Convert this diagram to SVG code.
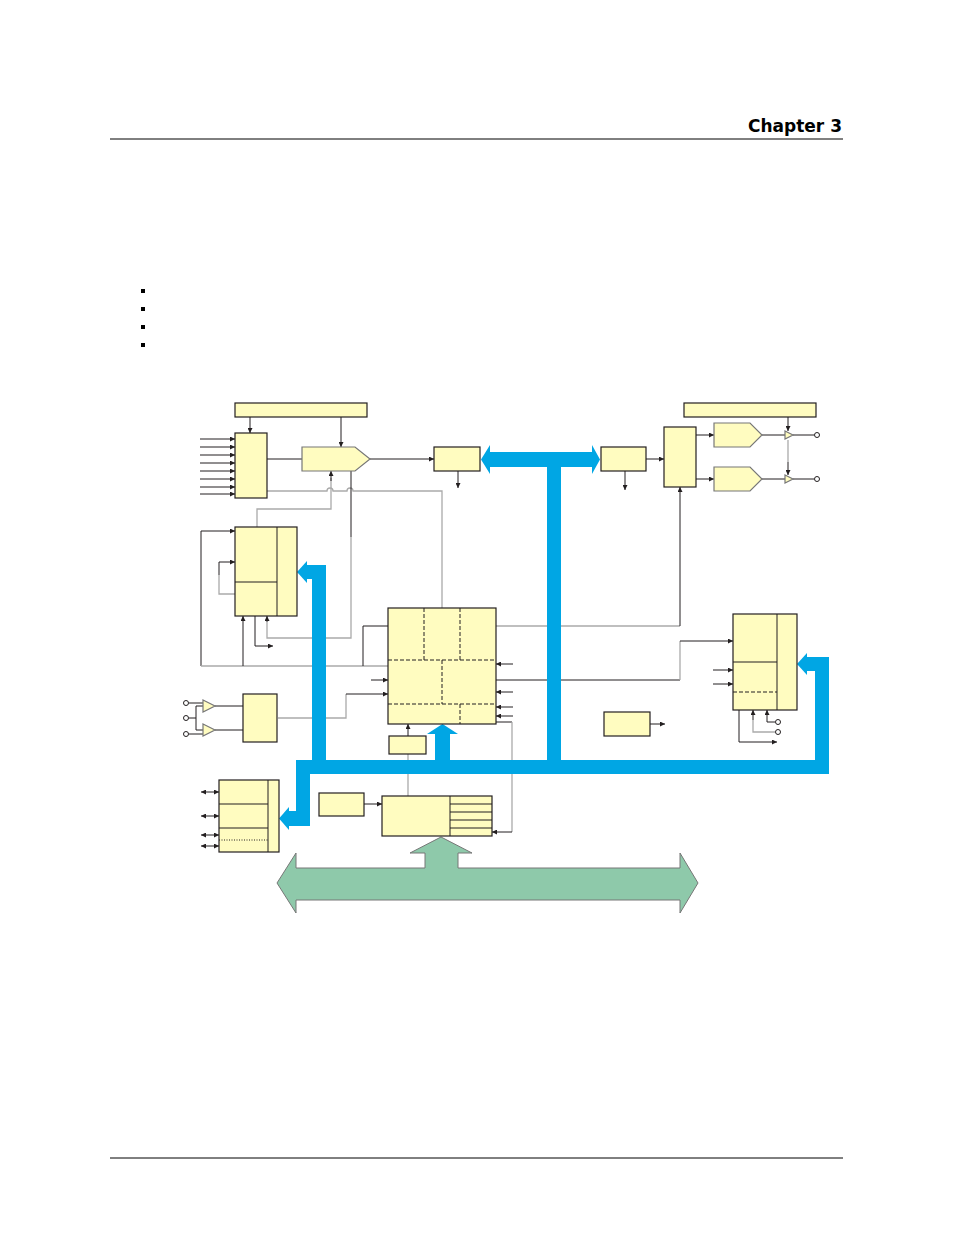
<svg xmlns="http://www.w3.org/2000/svg" width="954" height="1235" viewBox="0 0 954 1235">
<defs>
<marker id="a" viewBox="0 0 6 6" refX="6" refY="3" markerWidth="5" markerHeight="5" orient="auto"><path d="M0,0L6,3L0,6z" fill="#231f20"/></marker>
<marker id="s" viewBox="0 0 6 6" refX="0" refY="3" markerWidth="5" markerHeight="5" orient="auto"><path d="M6,0L0,3L6,6z" fill="#231f20"/></marker>
</defs>
<style>
.b{fill:#fffcc0;stroke:#231f20;stroke-width:1.2}
.p{fill:#fffcc0;stroke:#777;stroke-width:1.2}
.k{fill:none;stroke:#231f20;stroke-width:1}
.g{fill:none;stroke:#aaa;stroke-width:1.3}
.d{fill:none;stroke:#231f20;stroke-width:1;stroke-dasharray:4,2}
.bus{fill:#00a6e4}
.c{fill:#fff;stroke:#231f20;stroke-width:1}
</style>
<rect width="954" height="1235" fill="#fff"/>
<text x="842" y="132" text-anchor="end" font-family="DejaVu Sans, Liberation Sans, sans-serif" font-weight="bold" font-size="17" fill="#000">Chapter 3</text>
<line x1="110" y1="139" x2="843" y2="139" stroke="#000"/>
<line x1="110" y1="1158" x2="843" y2="1158" stroke="#000"/>
<g fill="#000"><rect x="141" y="289" width="4" height="4"/><rect x="141" y="307" width="4" height="4"/><rect x="141" y="325" width="4" height="4"/><rect x="141" y="343" width="4" height="4"/></g>

<g id="connectors">
<path class="k" d="M200,439H235" marker-end="url(#a)"/>
<path class="k" d="M200,447H235" marker-end="url(#a)"/>
<path class="k" d="M200,455H235" marker-end="url(#a)"/>
<path class="k" d="M200,463H235" marker-end="url(#a)"/>
<path class="k" d="M200,471H235" marker-end="url(#a)"/>
<path class="k" d="M200,479H235" marker-end="url(#a)"/>
<path class="k" d="M200,487H235" marker-end="url(#a)"/>
<path class="k" d="M200,494H235" marker-end="url(#a)"/>
<path class="k" d="M250,417V433" marker-end="url(#a)"/>
<path class="k" d="M341,417V447" marker-end="url(#a)"/>
<path class="k" d="M267,459H302"/>
<path class="k" d="M370,459H434" marker-end="url(#a)"/>
<path class="k" d="M458,471V488" marker-end="url(#a)"/>
<path class="g" d="M267,491H327a3,3 0 0 1 6,0H347a3,3 0 0 1 6,0H442V608"/>
<path class="g" d="M257,527V509H331V478"/>
<path class="k" d="M331,481V471" marker-end="url(#a)"/>
<path class="k" d="M351,471V537"/>
<path class="g" d="M351,537V638H267V622"/>
<path class="k" d="M267,622V616" marker-end="url(#a)"/>
<path class="k" d="M201,666V531H235" marker-end="url(#a)"/>
<path class="g" d="M201,666H388"/>
<path class="k" d="M363,666V626H388"/>
<path class="g" d="M235,594H219V575"/>
<path class="k" d="M219,575V562H235" marker-end="url(#a)"/>
<path class="k" d="M243,666V616" marker-end="url(#a)"/>
<path class="k" d="M255,616V646H273" marker-end="url(#a)"/>
<path class="k" d="M371,680H388" marker-end="url(#a)"/>
<path class="g" d="M278,718H346V694"/>
<path class="k" d="M346,694H388" marker-end="url(#a)"/>
<path class="k" d="M513,664H496" marker-end="url(#a)"/>
<path class="k" d="M513,692H496" marker-end="url(#a)"/>
<path class="k" d="M513,707H496" marker-end="url(#a)"/>
<path class="k" d="M513,716H496" marker-end="url(#a)"/>
<path class="k" d="M496,680H680"/>
<path class="g" d="M680,680V641"/>
<path class="k" d="M680,641H733" marker-end="url(#a)"/>
<path class="g" d="M496,626H680"/>
<path class="k" d="M680,626V487" marker-end="url(#a)"/>
<path class="k" d="M496,722H512"/>
<path class="g" d="M512,722V832"/>
<path class="k" d="M512,832H492" marker-end="url(#a)"/>
<path class="k" d="M408,736V724" marker-end="url(#a)"/>
<path class="g" d="M408,754V796"/>
<path class="k" d="M215,706H243M215,730H243"/>
<path class="k" d="M189,703H203M189,718H196V706H203M196,718V730H203M189,734H203"/>
<path class="k" d="M201,792H219" marker-start="url(#s)" marker-end="url(#a)"/>
<path class="k" d="M201,816H219" marker-start="url(#s)" marker-end="url(#a)"/>
<path class="k" d="M201,835H219" marker-start="url(#s)" marker-end="url(#a)"/>
<path class="k" d="M201,846H219" marker-start="url(#s)" marker-end="url(#a)"/>
<path class="k" d="M364,804H382" marker-end="url(#a)"/>
<path class="k" d="M625,471V490" marker-end="url(#a)"/>
<path class="k" d="M646,459H664" marker-end="url(#a)"/>
<path class="k" d="M696,435H714" marker-end="url(#a)"/>
<path class="k" d="M696,479H714" marker-end="url(#a)"/>
<path class="k" d="M762,435H785M762,479H785M793,435H814M793,479H814"/>
<path class="k" d="M788,417V431" marker-end="url(#a)"/>
<path class="g" d="M788,440V462"/>
<path class="k" d="M788,462V475" marker-end="url(#a)"/>
<path class="k" d="M713,670H733" marker-end="url(#a)"/>
<path class="k" d="M713,684H733" marker-end="url(#a)"/>
<path class="k" d="M775,722H767V710" marker-end="url(#a)"/>
<path class="g" d="M775,732H753V720"/>
<path class="k" d="M753,720V710" marker-end="url(#a)"/>
<path class="k" d="M739,710V742H777" marker-end="url(#a)"/>
<path class="k" d="M650,724H665" marker-end="url(#a)"/>
</g>

<g id="bus" class="bus">
<rect x="296" y="760" width="533" height="14"/>
<rect x="547" y="459" width="14" height="302"/>
<path d="M481,459.5L490,445V452H592V445L600,459.5L592,474V467H490V474Z"/>
<rect x="312" y="565" width="14" height="196"/>
<rect x="305" y="565" width="21" height="14"/>
<path d="M297,572L307,561V583Z"/>
<rect x="815" y="657" width="14" height="117"/>
<rect x="805" y="657" width="24" height="14"/>
<path d="M797,664L807,653V675Z"/>
<rect x="435" y="733" width="15" height="28"/>
<path d="M427,734L442.5,724L458,734Z"/>
<rect x="296" y="760" width="14" height="66"/>
<rect x="287" y="811" width="23" height="15"/>
<path d="M279,818.5L289,807V830Z"/>
</g>
<g id="green"><path d="M277,883L296,853V868H425V853H410L441,837L472,853H458V868H680V853L698,883L680,913V900H296V913Z" fill="#8ec9aa" stroke="#777" stroke-width="1"/></g>

<g id="nodes">
<rect id="topbarL" class="b" x="235" y="403" width="132" height="14"/>
<rect id="mux" class="b" x="235" y="433" width="32" height="65"/>
<path id="pentL" class="p" d="M302,447H355L370,459L355,471H302Z"/>
<rect id="boxL" class="b" x="434" y="447" width="46" height="24"/>
<g id="blockL"><rect class="b" x="235" y="527" width="62" height="89"/><path class="k" d="M277,527V616M235,582H277"/></g>
<g id="center"><rect class="b" x="388" y="608" width="108" height="116"/>
<path class="d" d="M424,608V660M460,608V660M388,660H496M442,660V704M388,704H496M460,704V724"/></g>
<rect id="small" class="b" x="389" y="736" width="37" height="18"/>
<g id="amps"><path class="p" d="M203,700L215,706L203,712Z M203,724L215,730L203,736Z"/>
<circle class="c" cx="186" cy="703" r="2.5"/><circle class="c" cx="186" cy="718" r="2.5"/><circle class="c" cx="186" cy="734" r="2.5"/></g>
<rect id="boxA" class="b" x="243" y="694" width="34" height="48"/>
<g id="blockBL"><rect class="b" x="219" y="780" width="60" height="72"/><path class="k" d="M268,780V852M219,804H268M219,828H268"/><path class="k" d="M219,840H268" stroke-dasharray="1,1.5"/></g>
<rect id="boxB" class="b" x="319" y="793" width="45" height="23"/>
<g id="busif"><rect class="b" x="382" y="796" width="110" height="40"/><path class="k" d="M450,796V836M450,804H492M450,812H492M450,820H492M450,828H492"/></g>
<rect id="topbarR" class="b" x="684" y="403" width="132" height="14"/>
<rect id="boxR" class="b" x="601" y="447" width="45" height="24"/>
<rect id="dac" class="b" x="664" y="427" width="32" height="60"/>
<path id="pentR1" class="p" d="M714,423H750L762,435L750,447H714Z"/>
<path id="pentR2" class="p" d="M714,467H750L762,479L750,491H714Z"/>
<g id="bufs"><path class="p" d="M785,431L793,435L785,439Z M785,475L793,479L785,483Z"/>
<circle class="c" cx="817" cy="435" r="2.5"/><circle class="c" cx="817" cy="479" r="2.5"/></g>
<g id="blockR"><rect class="b" x="733" y="614" width="64" height="96"/><path class="k" d="M777,614V710M733,662H777"/><path class="d" d="M733,692H777"/>
<circle class="c" cx="778" cy="722" r="2.5"/><circle class="c" cx="778" cy="732" r="2.5"/></g>
<rect id="osc" class="b" x="604" y="712" width="46" height="24"/>
</g>
</svg>
